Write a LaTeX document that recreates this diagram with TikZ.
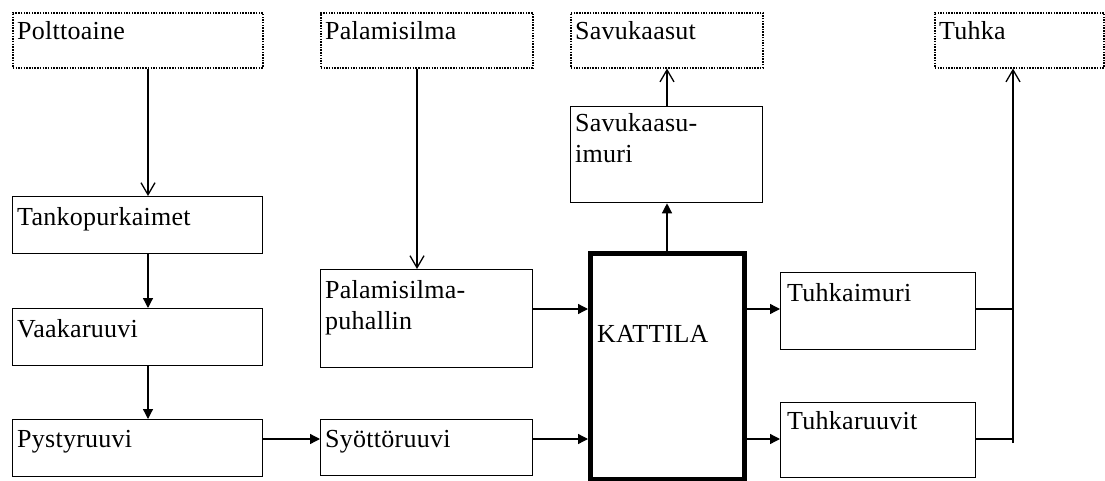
\documentclass[tikz,border=0pt]{standalone}
\usepackage{fontspec}
\setmainfont[LetterSpace=1]{Liberation Serif}
\usetikzlibrary{arrows.meta}
\begin{document}
\begin{tikzpicture}[x=1pt,y=-1pt,
  box/.style={draw, line width=1.3pt, rectangle, anchor=north west, inner sep=0pt},
  ext/.style={box, line width=1.6pt, dash pattern=on 1.5pt off 1.2pt},
  boiler/.style={box, line width=4.5pt},
  lbl/.style={anchor=north west, inner sep=0pt, font=\fontsize{26}{31}\selectfont, align=left},
  flow/.style={line width=1.3pt, -{Triangle[length=10pt,width=10pt]}},
  feed/.style={line width=1.3pt, -{Straight Barb[length=12pt,width=14pt]}},
  plain/.style={line width=1.3pt}]
\useasboundingbox (0,0) rectangle (1105,481);

% outside sources and sinks
\node[ext, minimum width=250pt, minimum height=55pt] (polt)  at (12,12)  {};
\node[ext, minimum width=212pt, minimum height=55pt] (pal)   at (320,12) {};
\node[ext, minimum width=192pt, minimum height=55pt] (savut) at (570,12) {};
\node[ext, minimum width=169pt, minimum height=55pt] (tuhka) at (934,12) {};

% equipment
\node[box, minimum width=192pt, minimum height=96pt] (savim) at (570,106) {};
\node[box, minimum width=250pt, minimum height=57pt] (tank)  at (12,196)  {};
\node[box, minimum width=250pt, minimum height=57pt] (vaak)  at (12,308)  {};
\node[box, minimum width=250pt, minimum height=57pt] (pyst)  at (12,419)  {};
\node[box, minimum width=212pt, minimum height=98pt] (puh)   at (320,269) {};
\node[box, minimum width=212pt, minimum height=56pt] (syot)  at (320,419) {};
\node[boiler, minimum width=154pt, minimum height=226pt] (kat) at (588,251) {};
\node[box, minimum width=195pt, minimum height=77pt] (ti)    at (780,272) {};
\node[box, minimum width=195pt, minimum height=75pt] (tr)    at (780,402) {};

% labels
\node[lbl] at ([shift={(5,9)}]polt.north west)  {Polttoaine};
\node[lbl] at ([shift={(5,9)}]pal.north west)   {Palamisilma};
\node[lbl] at ([shift={(5,9)}]savut.north west) {Savukaasut};
\node[lbl] at ([shift={(5,9)}]tuhka.north west) {Tuhka};
\node[lbl] at ([shift={(5,7)}]savim.north west)   {Savukaasu-\\imuri};
\node[lbl] at ([shift={(5,11)}]tank.north west)   {Tankopurkaimet};
\node[lbl] at ([shift={(5,11)}]vaak.north west)   {Vaakaruuvi};
\node[lbl] at ([shift={(5,11)}]pyst.north west)   {Pystyruuvi};
\node[lbl] at ([shift={(5,11)}]puh.north west)    {Palamisilma-\\puhallin};
\node[lbl] at ([shift={(5,11)}]syot.north west)   {Syöttöruuvi};
\node[lbl] at ([shift={(9,74)}]kat.north west)  {KATTILA};
\node[lbl] at ([shift={(7,11)}]ti.north west)     {Tuhkaimuri};
\node[lbl] at ([shift={(7,9)}]tr.north west)      {Tuhkaruuvit};

% guide lines for the connectors
\coordinate (colF) at (148,0);
\coordinate (colP) at (417,0);
\coordinate (colS) at (667,0);
\coordinate (colT) at (1013,0);
\coordinate (rowA) at (0,309);
\coordinate (rowB) at (0,439);
\coordinate (colEnd) at (1013,443);

% fuel line
\draw[feed] (polt.south -| colF) -- (tank.north -| colF);
\draw[flow] (tank.south -| colF) -- (vaak.north -| colF);
\draw[flow] (vaak.south -| colF) -- (pyst.north -| colF);
\draw[flow] (pyst.east |- rowB) -- (syot.west |- rowB);
\draw[flow] (syot.east |- rowB) -- (kat.west |- rowB);

% combustion air
\draw[feed] (pal.south -| colP) -- (puh.north -| colP);
\draw[flow] (puh.east |- rowA) -- (kat.west |- rowA);

% flue gas
\draw[flow] (kat.north -| colS) -- (savim.south -| colS);
\draw[feed] (savim.north -| colS) -- (savut.south -| colS);

% ash removal
\draw[flow] (kat.east |- rowA) -- (ti.west |- rowA);
\draw[flow] (kat.east |- rowB) -- (tr.west |- rowB);
\draw[plain] (ti.east |- rowA) -- (colT |- rowA);
\draw[plain] (tr.east |- rowB) -- (colT |- rowB);
\draw[feed] (colEnd) -- (tuhka.south -| colT);
\end{tikzpicture}
\end{document}
